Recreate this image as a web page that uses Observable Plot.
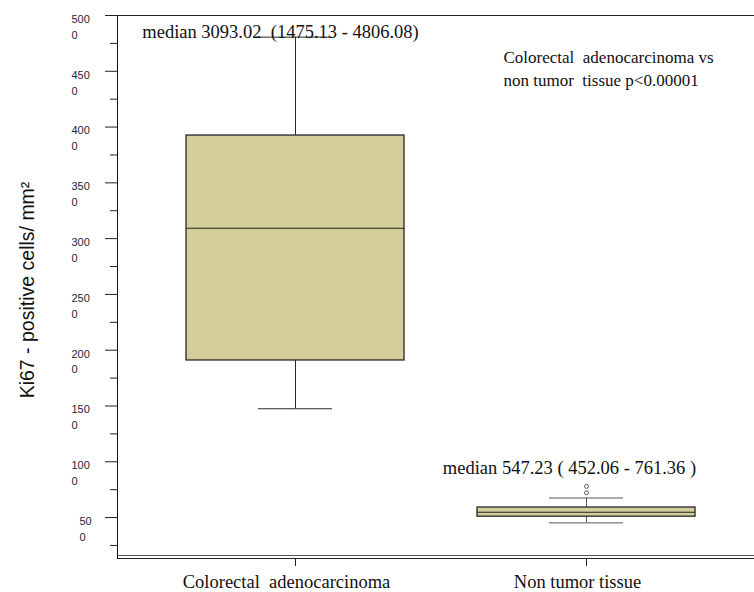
<!DOCTYPE html>
<html>
<head>
<meta charset="utf-8">
<script src="https://cdn.jsdelivr.net/npm/d3@7"></script>
<script src="https://cdn.jsdelivr.net/npm/@observablehq/plot@0.6"></script>
<style>
  html, body { margin: 0; padding: 0; background: #fff; }
  svg text { white-space: pre; }
</style>
</head>
<body>
<div id="chart"></div>
<script>
// ---- data ----
const categories = ["Colorectal adenocarcinoma", "Non tumor tissue"];
const categoryLabels = ["Colorectal  adenocarcinoma", "Non tumor tissue"];
const q1 = [1908, 508];
const median = [3093.02, 547.23];
const q3 = [3924, 590];
const whiskerLow = [1475.13, 452.06];
const whiskerHigh = [4806.08, 675];
const outlierGroup = ["Non tumor tissue", "Non tumor tissue"];
const outlierValues = [780, 722];
const medianLabels = ["median 3093.02  (1475.13 - 4806.08)", "median 547.23 ( 452.06 - 761.36 )"];
const comparisonText = "Colorectal  adenocarcinoma vs\nnon tumor  tissue p<0.00001";
const yTitle = "Ki67 - positive cells/ mm²";
const majorTicks = [500, 1000, 1500, 2000, 2500, 3000, 3500, 4000, 4500, 5000];
const minorTicks = [250, 750, 1250, 1750, 2250, 2750, 3250, 3750, 4250, 4750];
const yMin = 133, yMax = 5000;

const boxes = categories.map((c, i) => ({
  cat: c, q1: q1[i], med: median[i], q3: q3[i], lo: whiskerLow[i], hi: whiskerHigh[i], label: medianLabels[i]
}));
const outliers = outlierValues.map((v, i) => ({cat: outlierGroup[i], v}));
const tickLabel = d => String(d).slice(0, -1) + "\n" + String(d).slice(-1);

const serif = "'Liberation Serif', 'Times New Roman', serif";
const sans = "'Liberation Sans', Arial, sans-serif";
const boxFill = "#d4cf9a";
const ink = "#2a2a2a";

const chart = Plot.plot({
  width: 754,
  height: 592,
  marginLeft: 117,
  marginTop: 15,
  marginBottom: 34,
  marginRight: 0,
  style: {fontFamily: sans, background: "#fff", overflow: "visible"},
  x: {type: "band", domain: categories, range: [117, 764], paddingInner: 0.25, paddingOuter: 0.233, label: null},
  y: {domain: [yMin, yMax], label: null},
  marks: [
    // frame lines
    Plot.ruleY([yMax], {stroke: "#222"}),
    Plot.ruleY([yMin], {stroke: "#222"}),
    Plot.ruleY([yMin], {stroke: "#555", dy: -3}),
    Plot.frame({anchor: "left", stroke: "#111"}),
    // y ticks
    Plot.axisY(majorTicks, {tickSize: 12, text: null, stroke: "#222"}),
    Plot.axisY(minorTicks.filter(d => d > yMin), {tickSize: 7, text: null, stroke: "#222"}),
    Plot.text(majorTicks.filter(d => d >= 1000), {
      y: d => d, text: tickLabel, frameAnchor: "left", textAnchor: "start", lineAnchor: "top",
      dx: -46, dy: -4, fontSize: 11, lineHeight: 1.45, fill: "#1b2440", fontFamily: sans
    }),
    Plot.text(majorTicks.filter(d => d < 1000), {
      y: d => d, text: tickLabel, frameAnchor: "left", textAnchor: "start", lineAnchor: "top",
      dx: -38, dy: -4, fontSize: 11, lineHeight: 1.45, fill: "#1b2440", fontFamily: sans
    }),
    // x ticks
    Plot.axisX({tickSize: 8, text: null, stroke: "#222"}),
    Plot.text(categories, {
      x: d => d, text: (d, i) => categoryLabels[i], frameAnchor: "bottom", lineAnchor: "top",
      dy: 16, dx: -9, fontSize: 18.5, fontFamily: serif, fill: "#111"
    }),
    // whiskers
    Plot.ruleX(boxes, {x: "cat", y1: "q3", y2: "hi", stroke: (d, i) => i ? "#555" : ink}),
    Plot.ruleX(boxes, {x: "cat", y1: "lo", y2: "q1", stroke: (d, i) => i ? "#555" : ink}),
    Plot.tickY(boxes, {x: "cat", y: "hi", stroke: (d, i) => i ? "#555" : ink, inset: 72}),
    Plot.tickY(boxes, {x: "cat", y: "lo", stroke: (d, i) => i ? "#555" : ink, inset: 72}),
    // boxes
    Plot.barY(boxes, {x: "cat", y1: "q1", y2: "q3", fill: boxFill, stroke: "#333", strokeWidth: 1.4}),
    Plot.tickY(boxes, {x: "cat", y: "med", stroke: "#222", strokeWidth: 1.1}),
    // outliers
    Plot.dot(outliers, {x: "cat", y: "v", r: 2, stroke: "#555", fill: "#fff", strokeWidth: 1}),
    // median annotations
    Plot.text(boxes.slice(0, 1), {
      x: "cat", y: "hi", text: "label", lineAnchor: "middle", dx: -15, dy: -5.5,
      fontSize: 18.5, fontFamily: serif, fill: "#111"
    }),
    Plot.text(boxes.slice(1, 2), {
      x: "cat", y: d => Math.max(...outlierValues), text: "label", lineAnchor: "middle", dx: -17, dy: -18,
      fontSize: 18.5, fontFamily: serif, fill: "#111"
    }),
    // comparison text
    Plot.text([comparisonText], {
      text: d => d, frameAnchor: "top-left", textAnchor: "start", lineAnchor: "top",
      dx: 386, dy: 30, fontSize: 17, lineHeight: 1.41, fontFamily: serif, fill: "#111"
    }),
    // y title
    Plot.text([yTitle], {
      text: d => d, frameAnchor: "left", textAnchor: "middle", rotate: -90, dx: -90, dy: 3,
      fontSize: 19.5, fontFamily: sans, fill: "#111"
    })
  ]
});
document.getElementById("chart").appendChild(chart);
</script>
</body>
</html>
